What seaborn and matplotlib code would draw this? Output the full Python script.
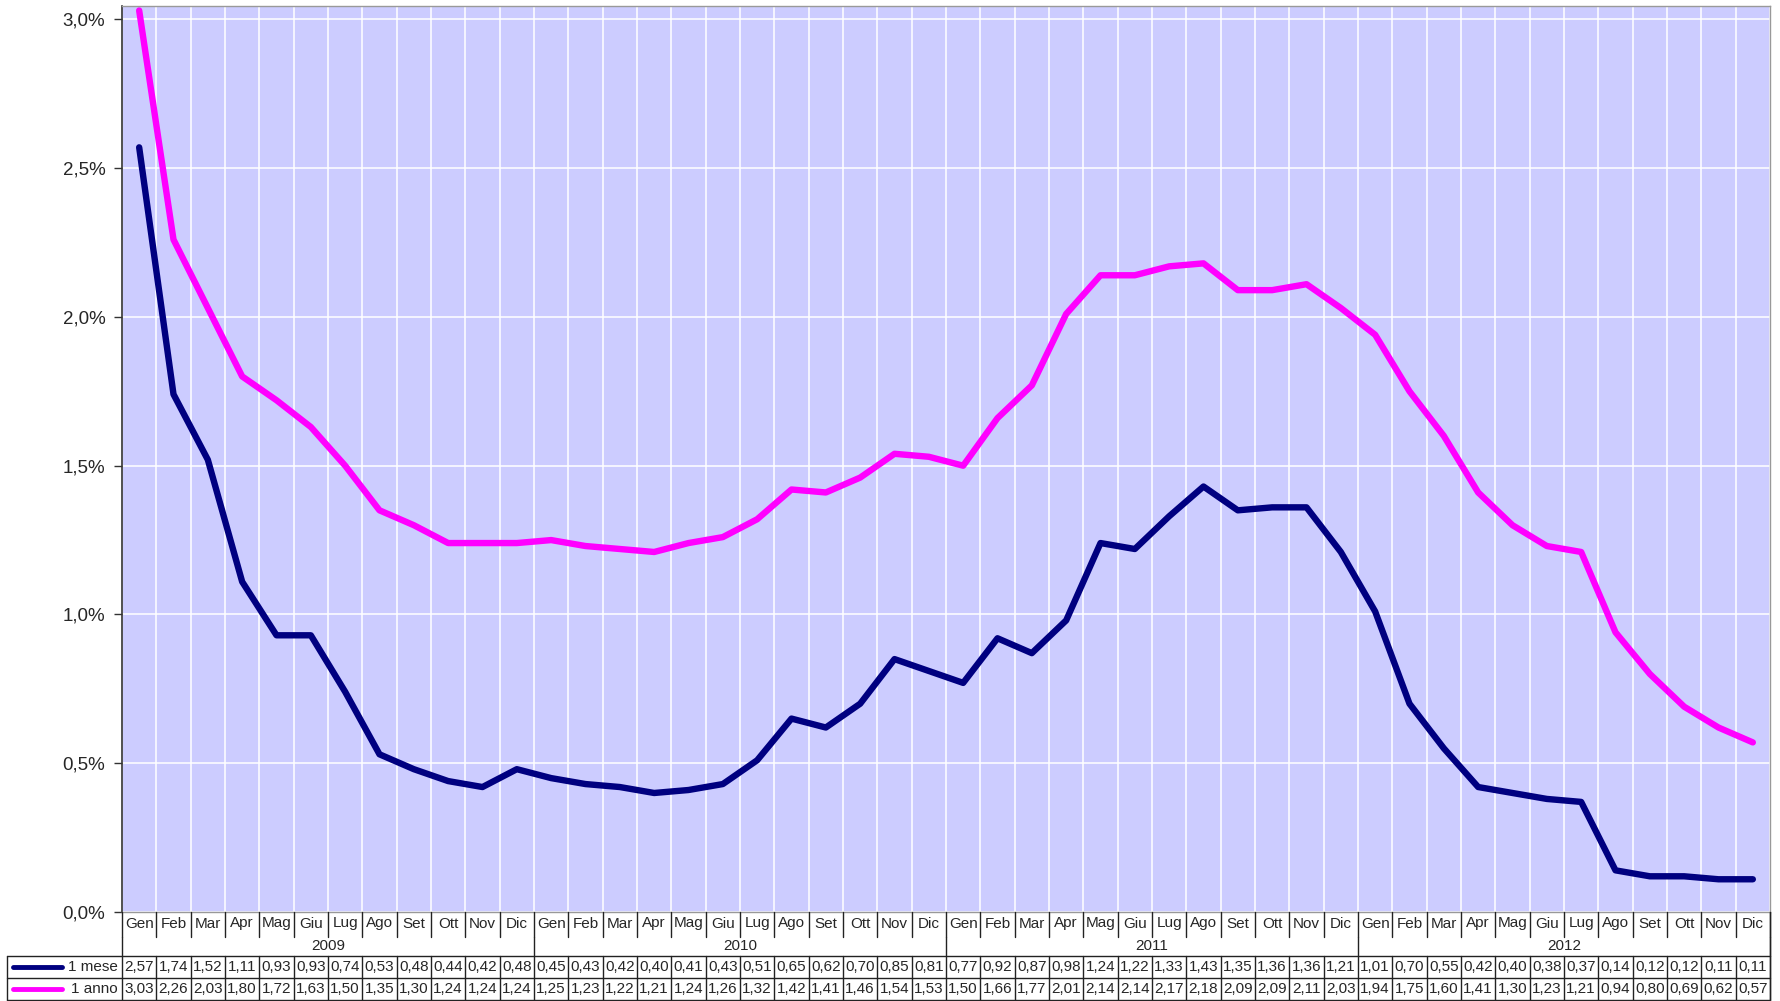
import numpy as np
import pandas as pd
import matplotlib
matplotlib.use("Agg")
import matplotlib.pyplot as plt
from matplotlib.ticker import FuncFormatter, MultipleLocator
import seaborn as sns

months = ["Gen", "Feb", "Mar", "Apr", "Mag", "Giu", "Lug", "Ago", "Set", "Ott", "Nov", "Dic"]
years = ["2009", "2010", "2011", "2012"]

mese_1 = [2.57, 1.74, 1.52, 1.11, 0.93, 0.93, 0.74, 0.53, 0.48, 0.44, 0.42, 0.48,
          0.45, 0.43, 0.42, 0.40, 0.41, 0.43, 0.51, 0.65, 0.62, 0.70, 0.85, 0.81,
          0.77, 0.92, 0.87, 0.98, 1.24, 1.22, 1.33, 1.43, 1.35, 1.36, 1.36, 1.21,
          1.01, 0.70, 0.55, 0.42, 0.40, 0.38, 0.37, 0.14, 0.12, 0.12, 0.11, 0.11]
anno_1 = [3.03, 2.26, 2.03, 1.80, 1.72, 1.63, 1.50, 1.35, 1.30, 1.24, 1.24, 1.24,
          1.25, 1.23, 1.22, 1.21, 1.24, 1.26, 1.32, 1.42, 1.41, 1.46, 1.54, 1.53,
          1.50, 1.66, 1.77, 2.01, 2.14, 2.14, 2.17, 2.18, 2.09, 2.09, 2.11, 2.03,
          1.94, 1.75, 1.60, 1.41, 1.30, 1.23, 1.21, 0.94, 0.80, 0.69, 0.62, 0.57]
series_names = ["1 mese", "1 anno"]
series_colors = ["#000080", "#FF00FF"]

sns.set_style("white")
plt.rcParams["font.family"] = ["Liberation Sans", "DejaVu Sans"]

n = len(mese_1)
idx = np.arange(n)
df = pd.DataFrame({
    "idx": np.concatenate([idx, idx]),
    "val": mese_1 + anno_1,
    "serie": [series_names[0]] * n + [series_names[1]] * n,
})

W, H = 1781, 1001
fig = plt.figure(figsize=(W / 100, H / 100), dpi=100)
px_left, px_right, px_top, px_bottom = 122, 1770, 6, 912
ax = fig.add_axes([px_left / W, 1 - px_bottom / H, (px_right - px_left) / W, (px_bottom - px_top) / H])
ax.set_facecolor("#CCCCFF")

sns.lineplot(data=df, x="idx", y="val", hue="serie", palette=series_colors,
             linewidth=4.6, ax=ax, legend=False, sort=False)
for l in ax.lines:
    l.set_solid_capstyle("round")
    l.set_solid_joinstyle("round")

ax.set_xlim(-0.5, n - 0.5)
ax.set_ylim(0, 3.045)
ax.yaxis.set_major_locator(MultipleLocator(0.5))
ax.yaxis.set_major_formatter(FuncFormatter(lambda v, p: f"{v:.1f}%".replace(".", ",")))
ax.set_xticks(np.arange(-0.5, n, 1.0))
ax.set_xticklabels([])
ax.tick_params(axis="x", length=0)
ax.tick_params(axis="y", length=6, width=1, color="#333333", labelsize=13.5, pad=6, left=True)
ax.grid(True, color="white", linewidth=1.1)
ax.set_axisbelow(True)
ax.set_xlabel("")
ax.set_ylabel("")
for s in ["top", "right", "bottom"]:
    ax.spines[s].set_color("#999999")
    ax.spines[s].set_linewidth(1)
ax.spines["left"].set_color("#333333")
ax.spines["left"].set_linewidth(1.2)

# --- data table below the plot ---
tab_top, tab_bot = 912, 1000
tax = fig.add_axes([px_left / W, 1 - tab_bot / H, (px_right - px_left) / W, (tab_bot - tab_top) / H])
tax.set_xlim(-0.5, n - 0.5)
tax.set_ylim(tab_bot - tab_top, 0)
tax.axis("off")
unit = (px_right - px_left) / n
def pxx(p):
    return -0.5 + (p - px_left) / unit

lc = "#222222"
lw = 1.0
fs = 11
r_month = (0, 25)
r_year = (25, 44)
r_d1 = (44, 66)
r_d2 = (66, 88)
x_lab = pxx(7)
for b in np.arange(-0.5, n, 1.0):
    tax.plot([b, b], [r_month[0], r_month[1]], color=lc, lw=lw, clip_on=False)
    tax.plot([b, b], [r_d1[0], r_d2[1]], color=lc, lw=lw, clip_on=False)
for b in np.arange(-0.5, n, 12.0):
    tax.plot([b, b], [r_year[0], r_year[1]], color=lc, lw=lw, clip_on=False)
tax.plot([n - 0.5, n - 0.5], [0, r_d2[1]], color=lc, lw=lw, clip_on=False)
tax.plot([x_lab, x_lab], [r_d1[0], r_d2[1]], color=lc, lw=lw, clip_on=False)
for yy in [r_d1[0], r_d2[0], r_d2[1] - 0.5]:
    tax.plot([x_lab, n - 0.5], [yy, yy], color=lc, lw=lw, clip_on=False)

for i in range(n):
    tax.text(i, sum(r_month) / 2 - 1, months[i % 12], ha="center", va="center", fontsize=fs)
for k, y in enumerate(years):
    tax.text(12 * k + 5.5, sum(r_year) / 2, y, ha="center", va="center", fontsize=fs)
for row, vals in zip([r_d1, r_d2], [mese_1, anno_1]):
    for i, v in enumerate(vals):
        tax.text(i, sum(row) / 2, f"{v:.2f}".replace(".", ","), ha="center", va="center", fontsize=fs)
for row, name, col in zip([r_d1, r_d2], series_names, series_colors):
    yc = sum(row) / 2
    tax.plot([pxx(13), pxx(62)], [yc, yc], color=col, lw=3.5, solid_capstyle="round", clip_on=False)
    tax.text(pxx(118), yc, name, ha="right", va="center", fontsize=fs)

fig.savefig("out.png", dpi=100)
